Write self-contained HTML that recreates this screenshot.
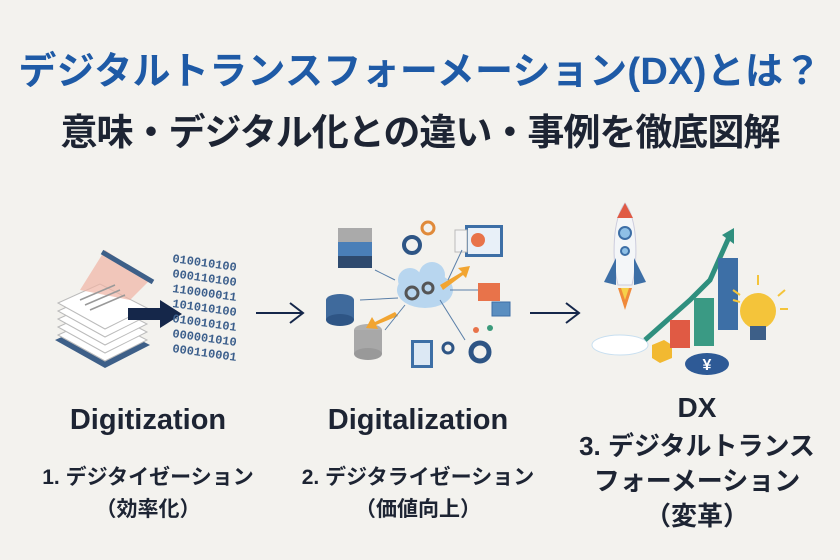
<!DOCTYPE html>
<html><head><meta charset="utf-8"><style>
html,body{margin:0;padding:0;}
body{width:840px;height:560px;background:#f3f2ee;overflow:hidden;position:relative;font-family:"Liberation Sans","Noto Sans CJK JP",sans-serif;}
.t{position:absolute;left:0;width:840px;text-align:center;font-weight:bold;white-space:nowrap;}
.l{position:absolute;text-align:center;font-weight:bold;color:#1d2433;white-space:nowrap;}
</style></head><body>
<div class="t" style="top:40px;font-size:38px;color:#1e5aa6;letter-spacing:0.3px;">デジタルトランスフォーメーション(DX)とは？</div>
<div class="t" style="top:102px;font-size:37px;color:#1d2433;letter-spacing:-1px;">意味・デジタル化との違い・事例を徹底図解</div>

<svg style="position:absolute;left:0;top:0" width="840" height="560">
<polygon points="55,340 100,320 150,345 105,368" fill="#3d5f88"/>
<g fill="#fff" stroke="#bbb">
<polygon points="58,335 100,316 147,340 105,361"/>
<polygon points="58,327 100,308 147,332 105,353"/>
<polygon points="58,319 100,300 147,324 105,345"/>
<polygon points="58,311 100,292 147,316 105,337"/>
<polygon points="58,303 100,284 147,308 105,329"/>
</g>
<polygon points="80,290 105,250 150,280 130,300" fill="#f0b4a4" opacity="0.7"/>
<line x1="102" y1="252" x2="153" y2="282" stroke="#3d5f88" stroke-width="5"/>
<g stroke="#999" stroke-width="1.5"><line x1="80" y1="300" x2="115" y2="285"/><line x1="85" y1="305" x2="120" y2="290"/><line x1="90" y1="310" x2="125" y2="295"/></g>
<rect x="128" y="308" width="35" height="12" fill="#15274a"/>
<polygon points="160,300 182,314 160,328" fill="#15274a"/>
<g font-family="Liberation Mono,monospace" font-size="12" fill="#3c5f8c" font-weight="bold">
<text x="172" y="262" transform="rotate(8 172 262)">010010100</text>
<text x="172" y="277" transform="rotate(8 172 277)">000110100</text>
<text x="172" y="292" transform="rotate(8 172 292)">110000011</text>
<text x="172" y="307" transform="rotate(8 172 307)">101010100</text>
<text x="172" y="322" transform="rotate(8 172 322)">010010101</text>
<text x="172" y="337" transform="rotate(8 172 337)">000001010</text>
<text x="172" y="352" transform="rotate(8 172 352)">000110001</text>
</g>
<g stroke="#15274a" stroke-width="2" fill="none">
<path d="M256 313 H302 M290 303 L303 313 L290 323"/>
<path d="M530 313 H578 M566 303 L579 313 L566 323"/>
</g>
<rect x="338" y="228" width="34" height="14" fill="#aaa"/><rect x="338" y="242" width="34" height="14" fill="#4a7fb8"/><rect x="338" y="256" width="34" height="12" fill="#2e4a6e"/>
<ellipse cx="340" cy="300" rx="14" ry="6" fill="#3f6a9c"/><rect x="326" y="300" width="28" height="20" fill="#3f6a9c"/><ellipse cx="340" cy="320" rx="14" ry="6" fill="#2e5585"/>
<ellipse cx="368" cy="330" rx="14" ry="6" fill="#b0b0b0"/><rect x="354" y="330" width="28" height="24" fill="#a8a8a8"/><ellipse cx="368" cy="354" rx="14" ry="6" fill="#999"/>
<ellipse cx="425" cy="290" rx="28" ry="18" fill="#b8d6ef"/><circle cx="410" cy="280" r="12" fill="#b8d6ef"/><circle cx="432" cy="275" r="13" fill="#b8d6ef"/>
<circle cx="412" cy="293" r="6" fill="none" stroke="#555" stroke-width="3"/><circle cx="428" cy="288" r="5" fill="none" stroke="#555" stroke-width="3"/>
<circle cx="412" cy="245" r="8" fill="none" stroke="#2e5585" stroke-width="4"/>
<circle cx="428" cy="228" r="6" fill="none" stroke="#e08a3a" stroke-width="3"/>
<rect x="465" y="225" width="38" height="32" fill="#3d6fa6"/><rect x="468" y="228" width="32" height="26" fill="#e8f0f8"/><circle cx="478" cy="240" r="7" fill="#e8734a"/>
<rect x="455" y="230" width="12" height="22" fill="#f4f4f4" stroke="#bbb"/>
<polygon points="440,285 462,272 458,268 470,266 466,278 463,275 443,290" fill="#f2a531"/>
<polygon points="395,312 375,322 372,317 366,328 378,329 376,325 398,316" fill="#f2a531"/>
<rect x="478" y="283" width="22" height="18" fill="#e8734a"/><rect x="492" y="302" width="18" height="14" fill="#5a8ec0" stroke="#3d6fa6"/>
<rect x="411" y="340" width="22" height="28" fill="#3d6fa6"/><rect x="414" y="343" width="16" height="22" fill="#dce8f4"/>
<circle cx="480" cy="352" r="9" fill="none" stroke="#2e5585" stroke-width="5"/><circle cx="448" cy="348" r="5" fill="none" stroke="#2e5585" stroke-width="3"/>
<circle cx="476" cy="330" r="3" fill="#e8734a"/><circle cx="490" cy="328" r="3" fill="#3a9a7a"/>
<g stroke="#5a7fa8" stroke-width="1" fill="none"><path d="M395 280 L375 270"/><path d="M398 298 L360 300"/><path d="M405 305 L385 330"/><path d="M450 290 L478 290"/><path d="M440 300 L465 340"/><path d="M448 280 L462 250"/></g>
<path d="M625 203 C612 220 612 260 618 285 L632 285 C638 260 638 220 625 203Z" fill="#f4f6f8" stroke="#ccd" />
<path d="M625 203 L617 218 L633 218Z" fill="#e05a44"/>
<circle cx="625" cy="233" r="6" fill="#8fc0e6" stroke="#3d6fa6" stroke-width="2"/><circle cx="625" cy="251" r="4" fill="#8fc0e6" stroke="#3d6fa6" stroke-width="2"/>
<path d="M616 258 L604 282 L616 285Z" fill="#3d6fa6"/><path d="M634 258 L646 282 L634 285Z" fill="#3d6fa6"/>
<path d="M618 288 L625 310 L632 288Z" fill="#f08a3a"/><path d="M621 288 L625 300 L629 288Z" fill="#f6d04a"/>
<ellipse cx="620" cy="345" rx="28" ry="10" fill="#fff" stroke="#c8dff0"/>
<polyline points="645,340 690,300 710,280 730,235" stroke="#2f8f7e" stroke-width="5" fill="none"/>
<polygon points="722,235 734,228 734,244" fill="#2f8f7e"/>
<polygon points="652,345 664,340 672,345 672,358 660,363 652,358" fill="#f2b931"/>
<rect x="670" y="320" width="20" height="28" fill="#e05a44"/>
<rect x="694" y="298" width="20" height="48" fill="#3a9a84"/>
<rect x="718" y="258" width="20" height="72" fill="#3d6fa6"/>
<ellipse cx="707" cy="364" rx="22" ry="11" fill="#2e5a96"/><text x="707" y="370" font-size="16" fill="#fff" text-anchor="middle" font-weight="bold">¥</text>
<circle cx="758" cy="311" r="18" fill="#f4c43a"/><rect x="750" y="326" width="16" height="14" fill="#3d5f88"/>
<g stroke="#f4c43a" stroke-width="2"><line x1="758" y1="275" x2="758" y2="285"/><line x1="785" y1="290" x2="778" y2="296"/><line x1="788" y1="309" x2="780" y2="309"/><line x1="733" y1="300" x2="740" y2="302"/><line x1="733" y1="290" x2="740" y2="295"/></g>
</svg>

<div class="l" style="left:48px;width:200px;top:404px;font-size:29px;">Digitization</div>
<div class="l" style="left:8px;width:280px;top:461px;font-size:21px;">1. デジタイゼーション</div>
<div class="l" style="left:48px;width:200px;top:493px;font-size:21px;">（効率化）</div>
<div class="l" style="left:318px;width:200px;top:404px;font-size:29px;">Digitalization</div>
<div class="l" style="left:273px;width:290px;top:461px;font-size:21px;">2. デジタライゼーション</div>
<div class="l" style="left:318px;width:200px;top:493px;font-size:21px;">（価値向上）</div>
<div class="l" style="left:597px;width:200px;top:392px;font-size:28px;">DX</div>
<div class="l" style="left:557px;width:280px;top:426px;font-size:26px;">3. デジタルトランス</div>
<div class="l" style="left:557px;width:280px;top:461px;font-size:26px;">フォーメーション</div>
<div class="l" style="left:597px;width:200px;top:496px;font-size:26px;">（変革）</div>
</body></html>
